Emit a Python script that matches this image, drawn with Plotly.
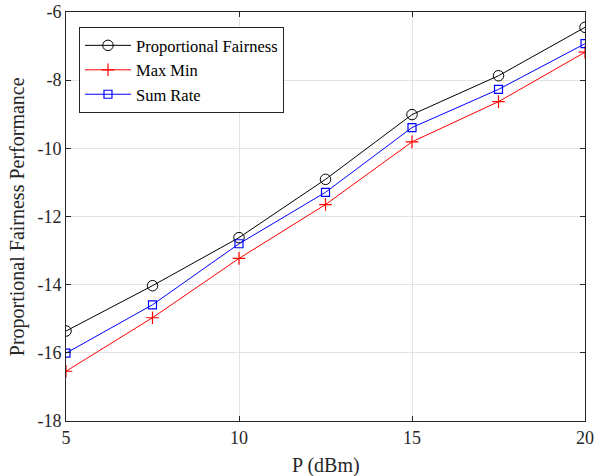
import plotly.graph_objects as go

p_dbm = [5, 7.5, 10, 12.5, 15, 17.5, 20]
prop_fair = [-15.36, -14.03, -12.62, -10.91, -9.01, -7.87, -6.45]
max_min = [-16.54, -14.97, -13.23, -11.65, -9.81, -8.63, -7.18]
sum_rate = [-16.01, -14.59, -12.80, -11.29, -9.39, -8.27, -6.93]

x_ticks = [5, 10, 15, 20]
x_labels = ["5", "10", "15", "20"]
y_ticks = [-18, -16, -14, -12, -10, -8, -6]
y_labels = ["-18", "-16", "-14", "-12", "-10", "-8", "-6"]

font = "Liberation Serif, Times New Roman, serif"
ink = "#262626"

fig = go.Figure()
fig.add_trace(go.Scatter(x=p_dbm, y=prop_fair, name="Proportional Fairness", mode="lines+markers",
                         line=dict(color="black", width=1),
                         marker=dict(symbol="circle-open", size=10.5, color="black", line=dict(width=1))))
fig.add_trace(go.Scatter(x=p_dbm, y=max_min, name="Max Min", mode="lines+markers",
                         line=dict(color="red", width=1),
                         marker=dict(symbol="cross-thin-open", size=9, color="red", line=dict(width=1.2, color="red"))))
fig.add_trace(go.Scatter(x=p_dbm, y=sum_rate, name="Sum Rate", mode="lines+markers",
                         line=dict(color="blue", width=1),
                         marker=dict(symbol="square-open", size=8, color="blue", line=dict(width=1.2))))

axis_common = dict(showline=True, linecolor=ink, linewidth=1, mirror="ticks",
                   ticks="inside", ticklen=5, tickcolor=ink, automargin=False,
                   showgrid=True, gridcolor="#e3e3e3", gridwidth=1, zeroline=False,
                   tickfont=dict(family=font, size=18, color=ink))

fig.update_layout(
    width=595, height=476,
    margin=dict(l=66, r=10, t=12, b=55),
    plot_bgcolor="white", paper_bgcolor="white",
    font=dict(family=font, color=ink),
    xaxis=dict(range=[5, 20], tickvals=x_ticks, ticktext=x_labels, **axis_common),
    yaxis=dict(range=[-18, -6], tickvals=y_ticks, ticktext=y_labels, **axis_common),
    legend=dict(x=0.025, y=0.963, xanchor="left", yanchor="top",
                bgcolor="white", bordercolor=ink, borderwidth=1,
                font=dict(family=font, size=16.5, color="black"),
                tracegroupgap=0, itemwidth=46),
    showlegend=True,
    annotations=[
        dict(text="P (dBm)", xref="paper", yref="paper", x=0.5, y=-0.11,
             xanchor="center", yanchor="middle", showarrow=False,
             font=dict(family=font, size=20, color=ink)),
        dict(text="Proportional Fairness Performance", xref="paper", yref="paper",
             x=-0.093, y=0.5, xanchor="center", yanchor="middle", textangle=-90,
             showarrow=False, font=dict(family=font, size=20, color=ink)),
    ],
)

fig.write_html("out.html", config={"displayModeBar": False},
               post_script="document.body.style.margin='0';document.body.style.padding='0';")
